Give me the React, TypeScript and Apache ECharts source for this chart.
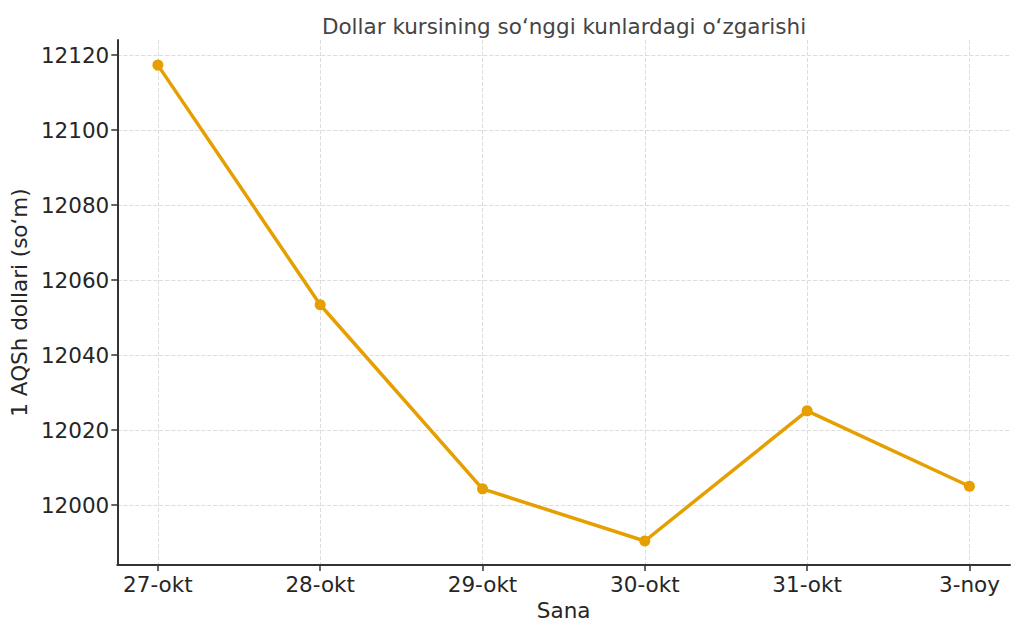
import React, { useEffect, useRef } from "react";
import * as echarts from "echarts";

const categories = ["27-okt", "28-okt", "29-okt", "30-okt", "31-okt", "3-noy"];
const rates = [12117.3, 12053.4, 12004.3, 11990.4, 12025.1, 12005.0];
const yTicks = [12000, 12020, 12040, 12060, 12080, 12100, 12120];
const titleText = "Dollar kursining so‘nggi kunlardagi o‘zgarishi";
const yName = "1 AQSh dollari (so‘m)";
const xName = "Sana";

export default function App() {
  const ref = useRef<HTMLDivElement>(null);
  useEffect(() => {
    if (!ref.current) return;
    const chart = echarts.init(ref.current, undefined, { renderer: "svg" });
    const font = "DejaVu Sans";
    const fs = 21.5;
    const xIdx = categories.map((_, i) => i);
    chart.setOption({
      animation: false,
      backgroundColor: "#ffffff",
      textStyle: { fontFamily: font },
      title: {
        text: titleText,
        left: 559,
        top: 10,
        textAlign: "center",
        textStyle: { fontFamily: font, fontSize: fs, fontWeight: "normal", color: "#444" },
      },
      grid: { left: 117, right: 14, top: 40, bottom: 69, containLabel: false },
      xAxis: {
        type: "value",
        min: -0.25,
        max: 5.25,
        name: xName,
        nameLocation: "middle",
        nameGap: 32,
        nameTextStyle: { fontFamily: font, fontSize: fs, color: "#262626" },
        axisLine: { show: true, onZero: false, lineStyle: { color: "#333", width: 2 } },
        axisTick: { show: true, length: 6, customValues: xIdx, lineStyle: { color: "#333", width: 1.5 } },
        axisLabel: {
          customValues: xIdx,
          formatter: (v: number) => categories[Math.round(v)] ?? "",
          fontFamily: font,
          fontSize: fs,
          color: "#262626",
          margin: 8,
        },
        splitLine: { show: true, lineStyle: { color: "#dcdcdc", type: "dashed", width: 1 } },
      },
      yAxis: {
        type: "value",
        min: 11984,
        max: 12124,
        name: yName,
        nameLocation: "middle",
        nameGap: 72,
        nameTextStyle: { fontFamily: font, fontSize: fs, color: "#262626" },
        axisLine: { show: true, onZero: false, lineStyle: { color: "#333", width: 2 } },
        axisTick: { show: true, length: 6, customValues: yTicks, lineStyle: { color: "#333", width: 1.5 } },
        axisLabel: {
          customValues: yTicks,
          formatter: (v: number) => String(v),
          fontFamily: font,
          fontSize: fs,
          color: "#262626",
          margin: 8,
        },
        splitLine: { show: true, lineStyle: { color: "#dcdcdc", type: "dashed", width: 1 } },
      },
      series: [
        {
          type: "line",
          data: rates.map((v, i) => [i, v]),
          symbol: "circle",
          symbolSize: 11,
          lineStyle: { color: "#E69F00", width: 3.5 },
          itemStyle: { color: "#E69F00" },
        },
      ],
    });
    return () => chart.dispose();
  }, []);
  return <div ref={ref} style={{ width: 1024, height: 634, margin: -8 }} />;
}
